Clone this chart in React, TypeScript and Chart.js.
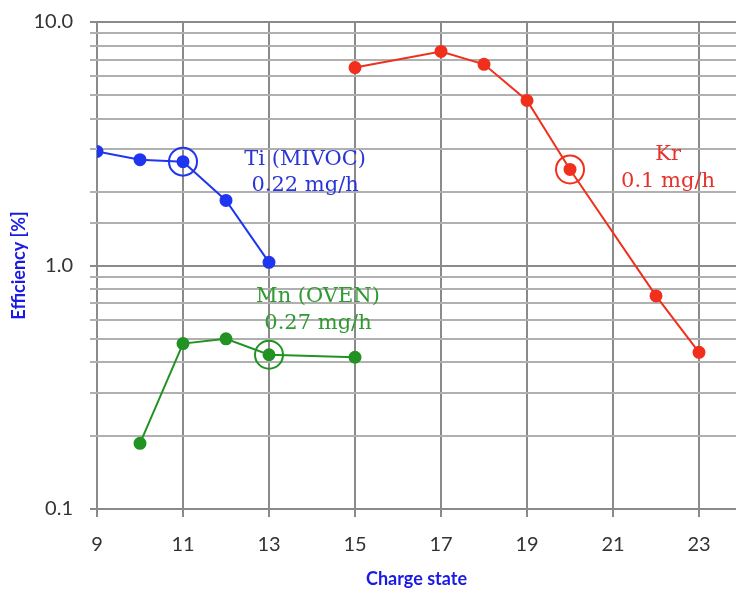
import React, { useEffect, useRef } from "react";
import { Chart, registerables } from "chart.js";

Chart.register(...registerables);

// Charge states and measured efficiencies (%)
const chargeTi = [9, 10, 11, 12, 13];
const effTi = [2.94, 2.72, 2.67, 1.85, 1.03];

const chargeMn = [10, 11, 12, 13, 15];
const effMn = [0.186, 0.478, 0.5, 0.43, 0.42];

const chargeKr = [15, 17, 18, 19, 20, 22, 23];
const effKr = [6.5, 7.57, 6.7, 4.76, 2.48, 0.75, 0.44];

// Index of the circled (optimised) charge state in each series
const ringTi = 2;
const ringMn = 3;
const ringKr = 4;

const yTickLabels = [0.1, 1, 10];

const BLUE = "#1f36f0";
const GREEN = "#229322";
const RED = "#f0301c";

type Note = { x: number; y: number; text: string; color: string };
const notes: Note[] = [
  { x: 13.84, y: 2.72, text: "Ti (MIVOC)", color: "#2a35d8" },
  { x: 13.84, y: 2.13, text: "0.22 mg/h", color: "#2a35d8" },
  { x: 14.14, y: 0.746, text: "Mn (OVEN)", color: "#2f9a2f" },
  { x: 14.14, y: 0.578, text: "0.27 mg/h", color: "#2f9a2f" },
  { x: 22.28, y: 2.86, text: "Kr", color: "#e8302a" },
  { x: 22.28, y: 2.21, text: "0.1 mg/h", color: "#e8302a" },
];

const zip = (xs: number[], ys: number[]) => xs.map((x, i) => ({ x, y: ys[i] }));

const notePlugin = {
  id: "notes",
  afterDatasetsDraw(chart: any) {
    const { ctx, scales } = chart;
    ctx.save();
    ctx.font = "21px 'DejaVu Serif'";
    ctx.textAlign = "center";
    ctx.textBaseline = "middle";
    for (const n of notes) {
      ctx.fillStyle = n.color;
      ctx.fillText(n.text, scales.x.getPixelForValue(n.x), scales.y.getPixelForValue(n.y));
    }
    ctx.restore();
  },
};

function lineSet(label: string, xs: number[], ys: number[], color: string) {
  return {
    label,
    data: zip(xs, ys),
    borderColor: color,
    backgroundColor: color,
    borderWidth: 2,
    pointRadius: 5.5,
    pointHoverRadius: 5.5,
    showLine: true,
    order: 1,
  };
}

function ringSet(label: string, x: number, y: number, color: string) {
  return {
    label,
    data: [{ x, y }],
    borderColor: color,
    backgroundColor: "rgba(0,0,0,0)",
    borderWidth: 2,
    pointRadius: 14,
    pointHoverRadius: 14,
    showLine: false,
    order: 0,
  };
}

export default function App() {
  const canvasRef = useRef<HTMLCanvasElement | null>(null);

  useEffect(() => {
    document.body.style.margin = "0";
    document.documentElement.style.overflow = "hidden";
    document.body.style.overflow = "hidden";
    const canvas = canvasRef.current;
    if (!canvas) return;
    const chart = new Chart(canvas, {
      type: "scatter",
      data: {
        datasets: [
          lineSet("Ti (MIVOC)", chargeTi, effTi, BLUE),
          lineSet("Mn (OVEN)", chargeMn, effMn, GREEN),
          lineSet("Kr", chargeKr, effKr, RED),
          ringSet("Ti ring", chargeTi[ringTi], effTi[ringTi], BLUE),
          ringSet("Mn ring", chargeMn[ringMn], effMn[ringMn], GREEN),
          ringSet("Kr ring", chargeKr[ringKr], effKr[ringKr], RED),
        ] as any,
      },
      options: {
        animation: false,
        responsive: true,
        maintainAspectRatio: false,
        layout: { autoPadding: false, padding: { top: 22, right: 0, left: 0, bottom: 0 } },
        plugins: {
          legend: { display: false },
          tooltip: { enabled: false },
        },
        scales: {
          x: {
            type: "linear",
            min: 9,
            max: 23.86,
            afterBuildTicks(scale: any) {
              const t = [];
              for (let v = 9; v <= 23; v += 2) t.push({ value: v });
              scale.ticks = t;
            },
            afterFit(scale: any) {
              scale.height = 85;
              scale.paddingLeft = 0;
              scale.paddingRight = 0;
            },
            grid: {
              color: "#8a8a8a",
              lineWidth: 2,
              tickLength: 8,
              drawTicks: true,
            },
            border: { display: false },
            ticks: {
              padding: 16,
              color: "#333",
              font: { family: "Lato", size: 20 },
              maxRotation: 0,
            },
            title: {
              display: true,
              text: "Charge state",
              color: "#1a1ae6",
              font: { family: "Lato", size: 18, weight: "bold" },
              padding: { top: 0, bottom: 4 },
            },
          },
          y: {
            type: "logarithmic",
            min: 0.1,
            max: 10,
            afterFit(scale: any) {
              scale.width = 97;
              scale.paddingTop = 0;
              scale.paddingBottom = 0;
            },
            grid: {
              color: (c: any) => {
                const v = c.tick ? c.tick.value : 0;
                const l = Math.log10(v);
                return Math.abs(l - Math.round(l)) < 1e-6 ? "#8a8a8a" : "#b0b0b0";
              },
              lineWidth: 2,
              tickLength: 7,
            },
            border: { display: false },
            ticks: {
              autoSkip: false,
              padding: 17,
              color: "#333",
              font: { family: "Lato", size: 20 },
              callback: (v: any) => {
                const n = Number(v);
                const hit = yTickLabels.find((t) => Math.abs(t - n) < 1e-9);
                return hit !== undefined ? hit.toFixed(1) : "";
              },
            },
            title: {
              display: true,
              text: "Efficiency [%]",
              color: "#1a1ae6",
              font: { family: "Lato", size: 18, weight: "bold" },
              padding: { top: 8, bottom: 0 },
            },
          },
        },
      } as any,
      plugins: [notePlugin],
    });
    return () => chart.destroy();
  }, []);

  return (
    <div style={{ width: 736, height: 594, position: "fixed", left: 0, top: 0 }}>
      <canvas ref={canvasRef} />
    </div>
  );
}
